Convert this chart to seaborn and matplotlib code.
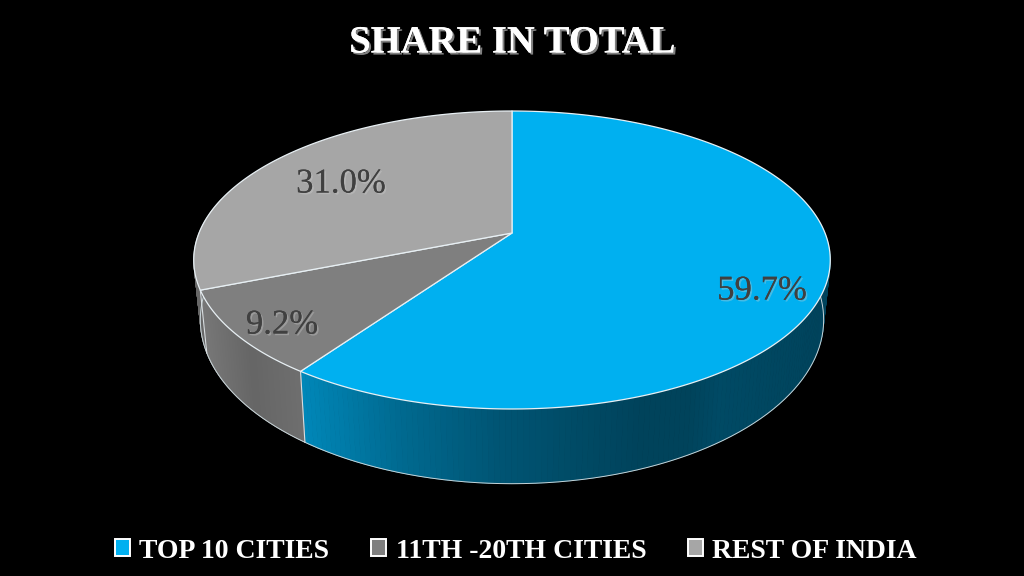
import numpy as np
import matplotlib
matplotlib.use("Agg")
import matplotlib.pyplot as plt
import matplotlib.patheffects as pe
from matplotlib.patches import Patch
import seaborn as sns

title = "SHARE IN TOTAL"
categories = ["TOP 10 CITIES", "11TH -20TH CITIES", "REST OF INDIA"]
shares = [59.7, 9.2, 31.0]
labels = ["59.7%", "9.2%", "31.0%"]

sns.set_theme(style="dark", rc={"figure.facecolor": "black", "axes.facecolor": "black"})
plt.rcParams["font.family"] = ["Liberation Serif", "DejaVu Serif"]
palette = sns.color_palette(["#00B0F0", "#7F7F7F", "#A6A6A6"])

fig, ax = plt.subplots(figsize=(10.24, 5.76), dpi=100)
ax.set_position([0, 0, 1, 1])
ax.set_xlim(0, 1024)
ax.set_ylim(576, 0)
ax.axis("off")

# perspective disc layout (pixel space)
CX, K = 512.0, 0.1812
TOP_A, TOP_B, TOP_Y = 313.0, 144.1, 233.0
BOT_A, BOT_B, BOT_Y = 306.5, 158.6, 290.0


def project(theta, a, b, y0):
    u, v = np.sin(theta), -np.cos(theta)
    d = 1 - K * v
    return CX + a * u / d, y0 + b * v / d


def top(theta):
    return project(theta, TOP_A, TOP_B, TOP_Y)


def bottom(theta):
    return project(theta, BOT_A, BOT_B, BOT_Y)


# side-wall shading against screen x
shade_x = [[300, 400, 500, 640, 690, 720, 830], [196, 250, 306], [190, 210]]
shade_f = [[0.77, 0.60, 0.48, 0.38, 0.38, 0.42, 0.38], [0.95, 0.80, 0.88], [0.62, 0.62]]

fractions = np.array(shares) / sum(shares)
edges = np.concatenate([[0], np.cumsum(fractions)]) * 2 * np.pi

# side wall
for i, col in enumerate(palette):
    ts = np.linspace(edges[i], edges[i + 1], 240)
    ts = ts[(np.cos(ts) < 0.25)]
    if len(ts) < 2:
        continue
    xt, yt = top(ts)
    xb, yb = bottom(ts)
    for j in range(len(ts) - 1):
        f = np.interp((xt[j] + xt[j + 1]) / 2, shade_x[i], shade_f[i])
        c = tuple(np.array(col) * f)
        ax.fill([xt[j], xt[j + 1], xb[j + 1], xb[j]], [yt[j], yt[j + 1], yb[j + 1], yb[j]],
                facecolor=c, edgecolor=c, lw=0.6, zorder=2)
    ax.plot(xb, yb, color="#c8d4d8", lw=0.7, zorder=3)

# visible vertical seams on the wall
for e in edges[1:3]:
    xt, yt = top(e)
    xb, yb = bottom(e)
    ax.plot([xt, xb], [yt, yb], color="#d8dde0", lw=0.8, zorder=3)

# top faces
for i, col in enumerate(palette):
    ts = np.linspace(edges[i], edges[i + 1], 300)
    x, y = top(ts)
    ax.fill(np.r_[CX, x], np.r_[TOP_Y, y], facecolor=col, edgecolor="#e8f0f4",
            lw=0.9, joinstyle="round", zorder=4)

# data labels
shadow = [pe.withSimplePatchShadow(offset=(1.2, -1.2), shadow_rgbFace="#d0d0d0", alpha=0.35), pe.Normal()]
for txt, (lx, ly) in zip(labels, [(762, 291), (282, 325), (341, 184)]):
    ax.text(lx, ly, txt, ha="center", va="center", fontsize=25, color="#404040",
            path_effects=shadow, zorder=5)

# title
ax.text(512, 43, title, ha="center", va="center", fontsize=27.8, fontweight="bold", color="white",
        path_effects=[pe.withSimplePatchShadow(offset=(1.5, -1.5), shadow_rgbFace="#808080", alpha=1.0),
                      pe.Normal()], zorder=5)

# legend
handles = [Patch(facecolor=c, edgecolor="white", lw=1.4, label=n) for c, n in zip(palette, categories)]
ax.legend(handles=handles, ncol=3, loc="center", bbox_to_anchor=(516 / 1024, 1 - 551 / 576),
          frameon=False, labelcolor="white", handlelength=0.55, handleheight=0.55,
          handletextpad=0.33, columnspacing=1.5, borderpad=0, borderaxespad=0,
          prop={"size": 20, "weight": "bold"})

fig.savefig("out.png", dpi=100, facecolor="black")
